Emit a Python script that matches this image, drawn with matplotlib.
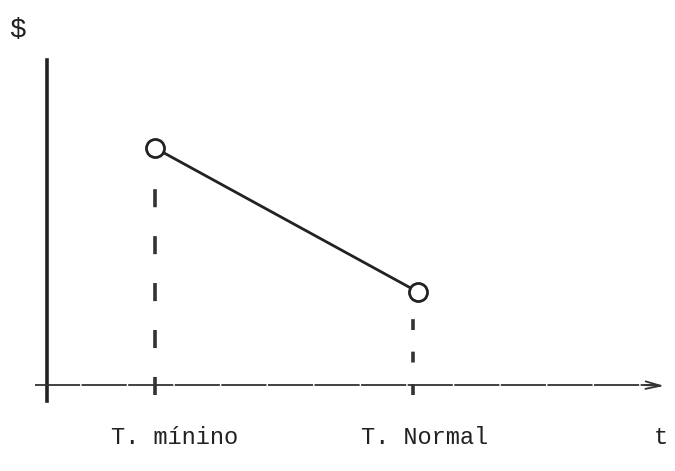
import matplotlib.pyplot as plt

# two points of the sketch: minimum T and normal T
puntos_x = [1.08, 3.71]
puntos_y = [2.37, 0.93]
guia_x = [1.08, 3.66]
etiquetas = ["T. mínino", "T. Normal"]
etiqueta_x = [1.28, 3.78]
eje_x = "t"
eje_y = "\\$"

fig = plt.figure(figsize=(6.75, 4.71), dpi=100)
ax = fig.add_axes([0, 0, 1, 1])
ax.set_xlim(-0.47, 6.28)
ax.set_ylim(-0.86, 3.85)
ax.axis("off")

fuente = ["Liberation Mono", "DejaVu Sans Mono"]

# axes of the drawing
ax.plot([0, 0], [-0.16, 3.25], color="#222222", lw=2.6)
ax.plot([-0.12, 6.1], [0, 0], color="#333333", lw=1.3, linestyle=(0, (25, 0.8)))
ax.annotate("", xy=(6.2, -0.01), xytext=(5.95, 0),
            arrowprops=dict(arrowstyle="->,head_width=0.15,head_length=0.6",
                            color="#333333", lw=1.3, mutation_scale=18))

# dashed guides down to the axis
estilos = [(0, (5, 8)), (0, (3, 6))]
for x, y, ls in zip(guia_x, puntos_y, estilos):
    ax.plot([x, x], [-0.1, y - 0.16], color="#333333", lw=2.6, linestyle=ls)

ax.plot(puntos_x, puntos_y, color="#222222", lw=2, marker="o", markersize=13,
        markerfacecolor="white", markeredgecolor="#222222", markeredgewidth=2)

for x, t in zip(etiqueta_x, etiquetas):
    ax.text(x, -0.52, t, ha="center", va="center", fontsize=17, family=fuente,
            color="#222222")
ax.text(6.14, -0.52, eje_x, ha="center", va="center", fontsize=17, family=fuente,
        color="#222222")
ax.text(-0.30, 3.55, eje_y, ha="center", va="center", fontsize=20, family=fuente,
        color="#222222")

fig.savefig("out.png", dpi=100)
